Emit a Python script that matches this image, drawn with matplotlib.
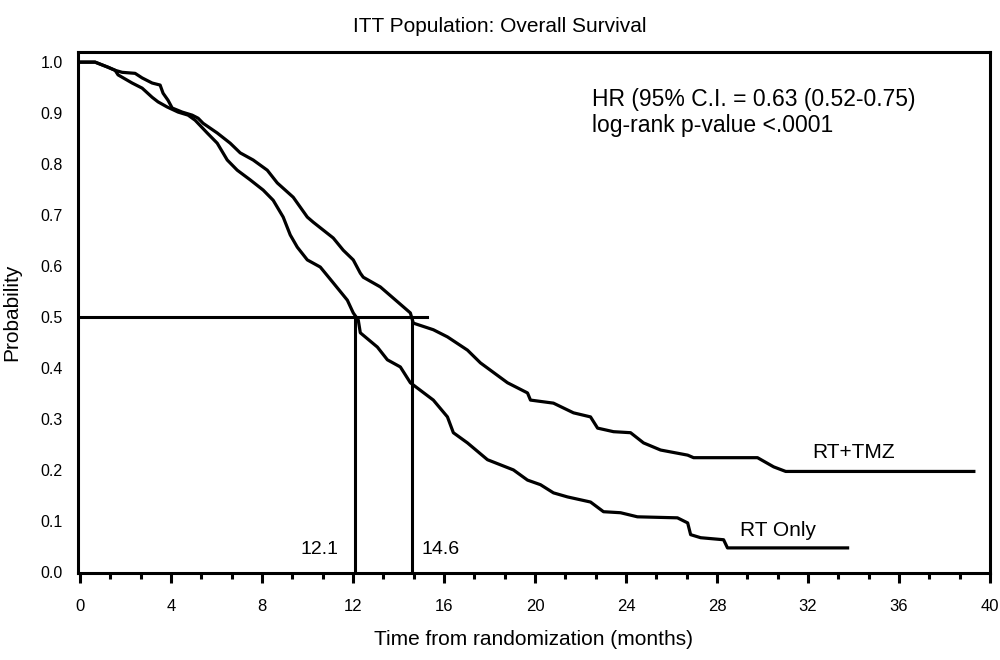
#!/usr/bin/env python

import matplotlib
matplotlib.use("Agg")
import matplotlib.pyplot as plt
from matplotlib.ticker import MultipleLocator

# Kaplan-Meier curves (months, survival probability)
tmz_months = [0, 0.66, 1.23, 1.54, 1.85, 2.42, 2.73, 3.17, 3.52, 3.65, 3.87, 4.05,
              4.49, 4.93, 5.19, 5.41, 6.03, 6.60, 7.04, 7.61, 8.23, 8.67, 9.37,
              9.99, 10.25, 11.13, 11.57, 12.01, 12.32, 12.45, 13.20, 14.21, 14.52,
              14.65, 15.53, 16.15, 17.03, 17.60, 18.79, 19.67, 19.80, 20.81, 21.69,
              22.44, 22.75, 23.45, 24.20, 24.77, 25.52, 26.71, 26.97, 29.78, 30.49,
              31.02, 39.29]
tmz_surv = [1.0, 1.0, 0.990, 0.984, 0.980, 0.978, 0.969, 0.959, 0.955, 0.939, 0.925,
            0.910, 0.902, 0.896, 0.890, 0.880, 0.861, 0.841, 0.822, 0.808, 0.788,
            0.763, 0.735, 0.696, 0.686, 0.655, 0.631, 0.612, 0.586, 0.578, 0.559,
            0.520, 0.508, 0.488, 0.475, 0.461, 0.435, 0.410, 0.371, 0.351, 0.337,
            0.331, 0.312, 0.304, 0.282, 0.275, 0.273, 0.253, 0.239, 0.229, 0.224,
            0.224, 0.206, 0.197, 0.197]

rt_months = [0, 0.66, 1.23, 1.54, 1.67, 2.29, 2.73, 3.17, 3.43, 3.83, 4.31, 4.75,
             5.06, 5.59, 6.03, 6.47, 6.91, 7.48, 8.05, 8.49, 8.93, 9.24, 9.55, 9.99,
             10.56, 11.13, 11.75, 12.01, 12.23, 12.32, 13.07, 13.51, 14.08, 14.52,
             15.53, 16.15, 16.41, 17.03, 17.91, 19.05, 19.67, 20.24, 20.81, 21.43,
             22.44, 23.01, 23.76, 24.50, 26.26, 26.71, 26.84, 27.28, 28.29, 28.46,
             33.74]
rt_surv = [1.0, 1.0, 0.990, 0.984, 0.975, 0.959, 0.949, 0.931, 0.922, 0.912, 0.902,
           0.896, 0.886, 0.861, 0.841, 0.808, 0.788, 0.769, 0.749, 0.729, 0.696,
           0.661, 0.637, 0.612, 0.598, 0.567, 0.533, 0.508, 0.494, 0.469, 0.441,
           0.416, 0.402, 0.371, 0.337, 0.304, 0.273, 0.253, 0.220, 0.200, 0.180,
           0.171, 0.155, 0.147, 0.137, 0.118, 0.116, 0.108, 0.106, 0.096, 0.073,
           0.067, 0.063, 0.047, 0.047]

medians = [12.1, 14.6]
median_labels = ["12.1", "14.6"]
median_line_end = 15.27

hr_text = ["HR (95% C.I. = 0.63 (0.52-0.75)", "log-rank p-value <.0001"]

plt.rcParams["font.family"] = ["Liberation Sans", "DejaVu Sans"]

fig = plt.figure(figsize=(10, 6.6), dpi=100)
ax = fig.add_axes([0.078, 0.132, 0.912, 0.789])

ax.plot(tmz_months, tmz_surv, color="black", linewidth=2.3, solid_joinstyle="round")
ax.plot(rt_months, rt_surv, color="black", linewidth=2.3, solid_joinstyle="round")

# median lines
ax.plot([0, median_line_end], [0.5, 0.5], color="black", linewidth=2.2)
for m in medians:
    ax.plot([m, m], [0, 0.5], color="black", linewidth=2.2)

ax.text(medians[0] - 0.75, 0.043, median_labels[0], ha="right", va="center", fontsize=14)
ax.text(medians[1] + 0.4, 0.043, median_labels[1], ha="left", va="center", fontsize=14)

ax.text(32.2, 0.235, "RT+TMZ", ha="left", va="center", fontsize=15)
ax.text(29.0, 0.082, "RT Only", ha="left", va="center", fontsize=15)

ax.text(22.5, 0.927, hr_text[0], ha="left", va="center", fontsize=16.5)
ax.text(22.5, 0.876, hr_text[1], ha="left", va="center", fontsize=16.5)

ax.set_xlim(-0.09, 40.0)
ax.set_ylim(-0.002, 1.0196)

ax.xaxis.set_major_locator(MultipleLocator(4))
ax.xaxis.set_minor_locator(MultipleLocator(4.0 / 3))
ax.yaxis.set_major_locator(MultipleLocator(0.1))
ax.set_yticklabels(["%.1f" % v for v in ax.get_yticks()])

ax.tick_params(axis="x", which="major", direction="out", length=7, width=2.2,
               pad=12, labelsize=12)
ax.tick_params(axis="x", which="minor", direction="out", length=4, width=2.2)
ax.tick_params(axis="y", length=0, pad=11, labelsize=11.5)

for s in ax.spines.values():
    s.set_linewidth(2.2)

ax.set_xlabel("Time from randomization (months)", fontsize=15, labelpad=11)
ax.set_ylabel("Probability", fontsize=15, labelpad=14)
fig.suptitle("ITT Population: Overall Survival", fontsize=15, y=0.975)

fig.savefig("out.png", dpi=100)
